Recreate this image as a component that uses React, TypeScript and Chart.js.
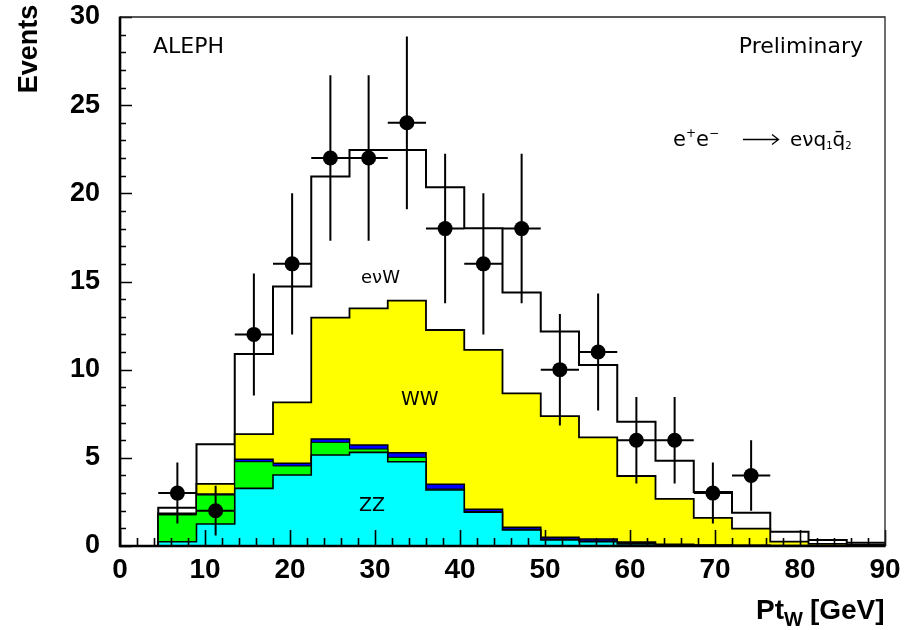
import React, { useEffect, useRef } from 'react';
import { Chart, registerables } from 'chart.js';

Chart.register(...registerables);

// ---- data ----
const BIN_EDGES = [4.5, 9, 13.5, 18, 22.5, 27, 31.5, 36, 40.5, 45, 49.5, 54, 58.5, 63, 67.5, 72, 76.5, 81, 85.5, 90];
// per-bin contributions (events)
const ZZ = [0.24, 1.25, 3.27, 4.03, 5.16, 5.31, 4.78, 3.18, 1.91, 0.91, 0.34, 0.25, 0.12, 0.06, 0.03, 0.02, 0.01, 0.0, 0.0];
const GREEN_BG = [1.52, 1.64, 1.51, 0.51, 0.72, 0.19, 0.25, 0.05, 0.04, 0.04, 0.04, 0.03, 0.02, 0.01, 0.01, 0.0, 0.0, 0.0, 0.0];
const BLUE_BG = [0.04, 0.06, 0.14, 0.15, 0.19, 0.23, 0.26, 0.27, 0.13, 0.11, 0.11, 0.12, 0.08, 0.03, 0.02, 0.02, 0.01, 0.01, 0.01];
const WW = [0.05, 0.57, 1.43, 3.46, 6.88, 7.75, 8.63, 8.75, 9.04, 7.6, 6.88, 5.76, 3.75, 2.57, 1.53, 0.94, 0.23, 0.11, 0.05];
const ENUW = [0.32, 2.25, 4.54, 6.56, 8.0, 8.98, 8.54, 8.1, 6.9, 5.71, 4.79, 4.11, 3.08, 2.17, 1.47, 0.91, 0.56, 0.22, 0.13];

const DATA_X = [6.75, 11.25, 15.75, 20.25, 24.75, 29.25, 33.75, 38.25, 42.75, 47.25, 51.75, 56.25, 60.75, 65.25, 69.75, 74.25];
const DATA_Y = [3, 2, 12, 16, 22, 22, 24, 18, 16, 18, 10, 11, 6, 6, 3, 4];
const DATA_ERR = [1.73, 1.41, 3.46, 4.0, 4.69, 4.69, 4.9, 4.24, 4.0, 4.24, 3.16, 3.32, 2.45, 2.45, 1.73, 2.0];
const X_HALF_WIDTH = 2.25;

const X_TICKS = [0, 10, 20, 30, 40, 50, 60, 70, 80, 90];
const Y_TICKS = [0, 5, 10, 15, 20, 25, 30];
const X_MINOR_STEP = 2;
const Y_MINOR_STEP = 1;

// ---- helpers ----
function cumulative(...arrs: number[][]): number[] {
  return arrs[0].map((_, i) => arrs.reduce((s, a) => s + a[i], 0));
}

function toSteps(vals: number[]) {
  const pts: { x: number; y: number }[] = [{ x: BIN_EDGES[0], y: 0 }];
  vals.forEach((v, i) => pts.push({ x: BIN_EDGES[i], y: v }));
  const last = vals[vals.length - 1];
  pts.push({ x: BIN_EDGES[BIN_EDGES.length - 1], y: last });
  pts.push({ x: BIN_EDGES[BIN_EDGES.length - 1], y: 0 });
  return pts;
}

function errorSegments() {
  const pts: { x: number; y: number | null }[] = [];
  DATA_X.forEach((cx, i) => {
    const cy = DATA_Y[i];
    const e = DATA_ERR[i];
    pts.push({ x: cx, y: cy - e }, { x: cx, y: cy + e }, { x: cx, y: null });
    pts.push({ x: cx - X_HALF_WIDTH, y: cy }, { x: cx + X_HALF_WIDTH, y: cy }, { x: cx, y: null });
  });
  return pts;
}

const SANS = '"DejaVu Sans", "Liberation Sans", sans-serif';
const BOLD = '"Liberation Sans", Arial, Helvetica, sans-serif';

type Piece = { t: string; size: number; dy?: number; gap?: number };
function drawPieces(ctx: CanvasRenderingContext2D, x: number, y: number, pieces: Piece[]) {
  let cx = x;
  pieces.forEach((p) => {
    ctx.font = `${p.size}px ${SANS}`;
    ctx.fillText(p.t, cx, y + (p.dy || 0));
    cx += ctx.measureText(p.t).width + (p.gap || 0);
  });
}

const hepAxes = {
  id: 'hepAxes',
  afterDraw(chart: any) {
    const { ctx, chartArea: a, scales } = chart;
    const x = scales.x;
    const y = scales.y;
    ctx.save();
    ctx.strokeStyle = '#000';
    ctx.fillStyle = '#000';
    ctx.lineCap = 'butt';

    // ticks (inside)
    ctx.lineWidth = 1.6;
    ctx.beginPath();
    for (let v = x.min; v <= x.max + 1e-9; v += X_MINOR_STEP) {
      const px = Math.round(x.getPixelForValue(v)) + 0.5;
      const major = X_TICKS.includes(v);
      ctx.moveTo(px, a.bottom);
      ctx.lineTo(px, a.bottom - (major ? 16 : 8));
    }
    for (let v = y.min; v <= y.max + 1e-9; v += Y_MINOR_STEP) {
      const py = Math.round(y.getPixelForValue(v)) + 0.5;
      const major = Y_TICKS.includes(v);
      ctx.moveTo(a.left, py);
      ctx.lineTo(a.left + (major ? 12 : 6), py);
    }
    ctx.stroke();

    // frame
    ctx.lineWidth = 1.3;
    ctx.strokeStyle = '#222';
    ctx.beginPath();
    ctx.moveTo(a.left, a.top);
    ctx.lineTo(a.right, a.top);
    ctx.lineTo(a.right, a.bottom);
    ctx.stroke();
    ctx.strokeStyle = '#000';
    ctx.lineWidth = 2.6;
    ctx.beginPath();
    ctx.moveTo(a.left, a.top - 0.6);
    ctx.lineTo(a.left, a.bottom);
    ctx.lineTo(a.right + 0.6, a.bottom);
    ctx.stroke();

    // tick labels
    ctx.font = `bold 28px ${BOLD}`;
    ctx.textAlign = 'center';
    ctx.textBaseline = 'alphabetic';
    X_TICKS.forEach((v) => ctx.fillText(String(v), x.getPixelForValue(v), 578));
    ctx.font = `bold 27px ${BOLD}`;
    ctx.textAlign = 'right';
    ctx.textBaseline = 'middle';
    Y_TICKS.forEach((v) => ctx.fillText(String(v), a.left - 20, y.getPixelForValue(v)));

    // axis titles
    ctx.save();
    ctx.translate(37, 49);
    ctx.rotate(-Math.PI / 2);
    ctx.font = `bold 27px ${BOLD}`;
    ctx.textAlign = 'center';
    ctx.textBaseline = 'alphabetic';
    ctx.fillText('Events', 0, 0);
    ctx.restore();

    ctx.textAlign = 'left';
    ctx.textBaseline = 'alphabetic';
    let tx = 756;
    const ty = 619;
    ctx.font = `bold 28px ${BOLD}`;
    ctx.fillText('Pt', tx, ty);
    tx += ctx.measureText('Pt').width;
    ctx.font = `bold 20px ${BOLD}`;
    ctx.fillText('W', tx, ty + 7);
    tx += ctx.measureText('W').width + 7;
    ctx.font = `bold 28px ${BOLD}`;
    ctx.fillText('[GeV]', tx, ty);

    // annotations
    ctx.font = `22px ${SANS}`;
    ctx.textAlign = 'left';
    ctx.fillText('ALEPH', 153, 53);
    ctx.textAlign = 'right';
    ctx.fillText('Preliminary', 863, 53);
    ctx.textAlign = 'left';

    // e+e- -> e nu q1 q2bar
    drawPieces(ctx, 673, 146, [
      { t: 'e', size: 21 },
      { t: '+', size: 12, dy: -9 },
      { t: 'e', size: 21 },
      { t: '\u2212', size: 12, dy: -9 },
    ]);
    // long arrow
    ctx.lineWidth = 1.3;
    ctx.beginPath();
    ctx.moveTo(743, 139.5);
    ctx.lineTo(778, 139.5);
    ctx.moveTo(772, 134.5);
    ctx.lineTo(778.5, 139.5);
    ctx.lineTo(772, 144.5);
    ctx.stroke();
    drawPieces(ctx, 790, 146, [
      { t: 'e', size: 20 },
      { t: '\u03BD', size: 20 },
      { t: 'q', size: 20 },
      { t: '1', size: 10, dy: 3 },
      { t: 'q\u0304', size: 20 },
      { t: '2', size: 10, dy: 3 },
    ]);

    ctx.font = `18px ${SANS}`;
    ctx.fillText('e\u03BDW', 361, 283);
    ctx.font = `19px ${SANS}`;
    ctx.fillText('WW', 401, 405);
    ctx.fillText('ZZ', 359, 511);
    ctx.restore();
  },
};

export default function App() {
  const ref = useRef<HTMLCanvasElement | null>(null);

  useEffect(() => {
    document.body.style.margin = '0';
    const canvas = ref.current;
    if (!canvas) return;

    const cZZ = cumulative(ZZ);
    const cGreen = cumulative(ZZ, GREEN_BG);
    const cBlue = cumulative(ZZ, GREEN_BG, BLUE_BG);
    const cWW = cumulative(ZZ, GREEN_BG, BLUE_BG, WW);
    const cTot = cumulative(ZZ, GREEN_BG, BLUE_BG, WW, ENUW);

    const layer = (label: string, vals: number[], color: string, order: number, bw = 1.8) => ({
      type: 'line' as const,
      label,
      data: toSteps(vals),
      stepped: true,
      fill: 'origin',
      backgroundColor: color,
      borderColor: '#000',
      borderWidth: bw,
      pointRadius: 0,
      order,
      borderJoinStyle: 'miter' as const,
    });

    const chart = new Chart(canvas, {
      type: 'line',
      data: {
        datasets: [
          layer('eνW', cTot, '#ffffff', 5, 2),
          layer('WW', cWW, '#ffff00', 4, 1.8),
          layer('blue', cBlue, '#0000ff', 3, 1.6),
          layer('green', cGreen, '#00ff00', 2, 1),
          layer('ZZ', cZZ, '#00ffff', 1, 1.6),
          {
            type: 'line' as const,
            label: 'errors',
            data: errorSegments() as any,
            borderColor: '#000',
            borderWidth: 2,
            pointRadius: 0,
            fill: false,
            spanGaps: false,
            order: 0,
          },
          {
            type: 'scatter' as const,
            label: 'Data',
            data: DATA_X.map((x, i) => ({ x, y: DATA_Y[i] })),
            backgroundColor: '#000',
            borderColor: '#000',
            borderWidth: 0,
            pointRadius: 7.5,
            order: -1,
          },
        ] as any,
      },
      options: {
        responsive: false,
        animation: false,
        layout: { padding: { left: 120, right: 21, top: 17, bottom: 84 } },
        plugins: { legend: { display: false }, tooltip: { enabled: false } },
        scales: {
          x: { type: 'linear', min: 0, max: 90, display: false },
          y: { type: 'linear', min: 0, max: 30, display: false },
        },
      },
      plugins: [hepAxes],
    });
    return () => chart.destroy();
  }, []);

  return <canvas ref={ref} width={906} height={630} style={{ display: 'block' }} />;
}
